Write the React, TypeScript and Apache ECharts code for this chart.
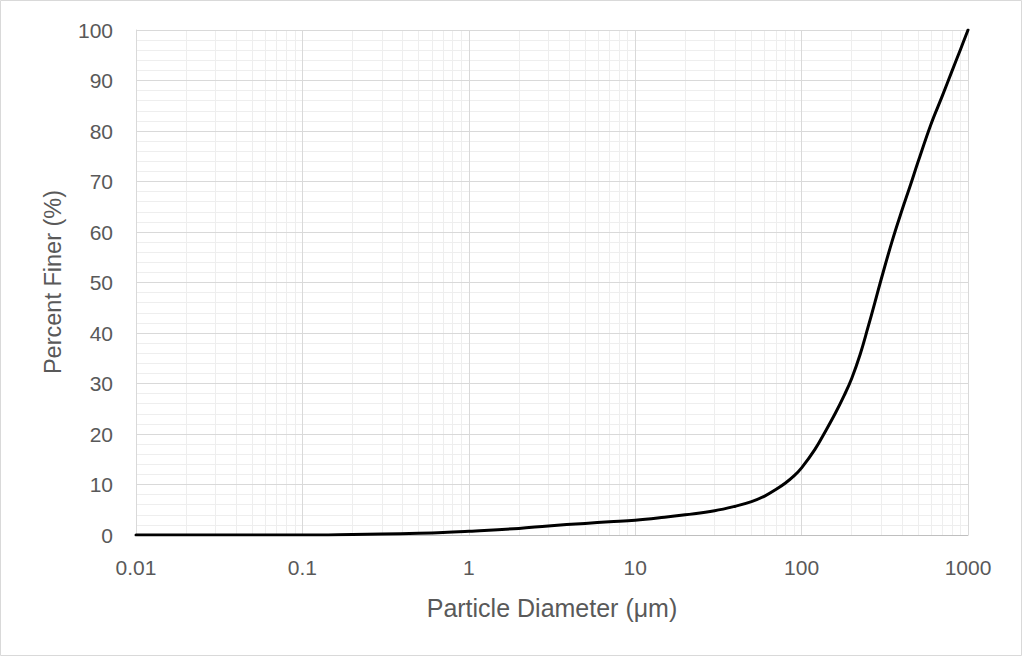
import React, { useEffect, useRef } from "react";
import * as echarts from "echarts";

// Grain size distribution: particle diameter (µm) vs. cumulative percent finer
const diameters = [
  0.01, 0.02, 0.05, 0.1, 0.2, 0.3, 0.5, 0.7, 1, 2, 3, 5, 7, 10, 15, 20, 30, 40,
  50, 60, 70, 80, 90, 100, 120, 140, 160, 180, 200, 225, 250, 275, 300, 350,
  400, 450, 500, 600, 700, 800, 900, 1000,
];
const percentFiner = [
  0, 0, 0, 0, 0.1, 0.2, 0.35, 0.5, 0.75, 1.3, 1.8, 2.3, 2.6, 2.9, 3.5, 4.0,
  4.8, 5.7, 6.6, 7.7, 9.0, 10.3, 11.7, 13.3, 16.9, 20.7, 24.2, 27.6, 31.0,
  35.8, 41.0, 45.9, 50.5, 58.2, 64.2, 69.2, 73.8, 81.4, 86.9, 91.8, 96.1, 100,
];
const xTickLabels = ["0.01", "0.1", "1", "10", "100", "1000"];
const decades = [0.01, 0.1, 1, 10, 100];
const minorSteps = [2, 3, 4, 5, 6, 7, 8, 9];

const textColor = "#595959";
const font = "Liberation Sans";

export default function App() {
  const ref = useRef<HTMLDivElement>(null);

  useEffect(() => {
    if (!ref.current) return;
    const chart = echarts.init(ref.current, undefined, { renderer: "svg" });

    const minorX: { xAxis: number }[] = [];
    decades.forEach((d) =>
      minorSteps.forEach((k) => minorX.push({ xAxis: +(d * k).toPrecision(6) }))
    );

    chart.setOption({
      animation: false,
      backgroundColor: "#ffffff",
      grid: { left: 136, right: 54, top: 30, bottom: 121, containLabel: false },
      xAxis: {
        type: "log",
        logBase: 10,
        min: 0.01,
        max: 1000,
        splitNumber: 5,
        z: 1,
        name: "Particle Diameter (μm)",
        nameLocation: "middle",
        nameGap: 60,
        nameTextStyle: { color: textColor, fontFamily: font, fontSize: 25 },
        axisLine: { show: true, lineStyle: { color: "#bfbfbf", width: 1 } },
        axisTick: { show: false },
        axisLabel: {
          color: textColor,
          fontFamily: font,
          fontSize: 21,
          margin: 22,
          formatter: (v: number) => {
            const i = Math.round(Math.log10(v)) + 2;
            return xTickLabels[i] ?? String(v);
          },
        },
        splitLine: { show: true, lineStyle: { color: "#d9d9d9", width: 1 } },
        minorSplitLine: { show: false },
      },
      yAxis: {
        type: "value",
        min: 0,
        max: 100,
        interval: 10,
        z: 1,
        axisLine: { show: true, lineStyle: { color: "#d9d9d9" } },
        axisTick: { show: false },
        axisLabel: {
          color: textColor,
          fontFamily: font,
          fontSize: 21,
          margin: 23,
        },
        splitLine: { show: true, lineStyle: { color: "#d9d9d9", width: 1 } },
        minorTick: { show: false, splitNumber: 5 },
        minorSplitLine: { show: true, lineStyle: { color: "#eeeeee", width: 1 } },
      },
      graphic: [
        {
          type: "rect",
          shape: { x: 0.5, y: 0.5, width: 1021, height: 655 },
          style: { fill: "none", stroke: "#d9d9d9", lineWidth: 1 },
          z: -10,
        },
        {
          type: "text",
          x: 53,
          y: 282,
          rotation: Math.PI / 2,
          style: {
            text: "Percent Finer (%)",
            fill: textColor,
            font: `23.5px "${font}"`,
            align: "center",
            verticalAlign: "middle",
          },
        },
      ],
      series: [
        {
          // minor log gridlines (2..9 within each decade), kept beneath the axes
          type: "line",
          data: [],
          z: 0,
          silent: true,
          markLine: {
            z: 0,
            silent: true,
            symbol: ["none", "none"],
            label: { show: false },
            lineStyle: { color: "#eeeeee", type: "solid", width: 1 },
            data: minorX,
          },
        },
        {
          type: "line",
          z: 3,
          data: diameters.map((d, i) => [d, percentFiner[i]]),
          symbol: "none",
          showSymbol: false,
          smooth: 0.4,
          lineStyle: { color: "#000000", width: 3, join: "round", cap: "round" },
        },
      ],
    });

    return () => chart.dispose();
  }, []);

  return (
    <div
      ref={ref}
      style={{ position: "fixed", left: 0, top: 0, width: 1022, height: 656 }}
    />
  );
}
